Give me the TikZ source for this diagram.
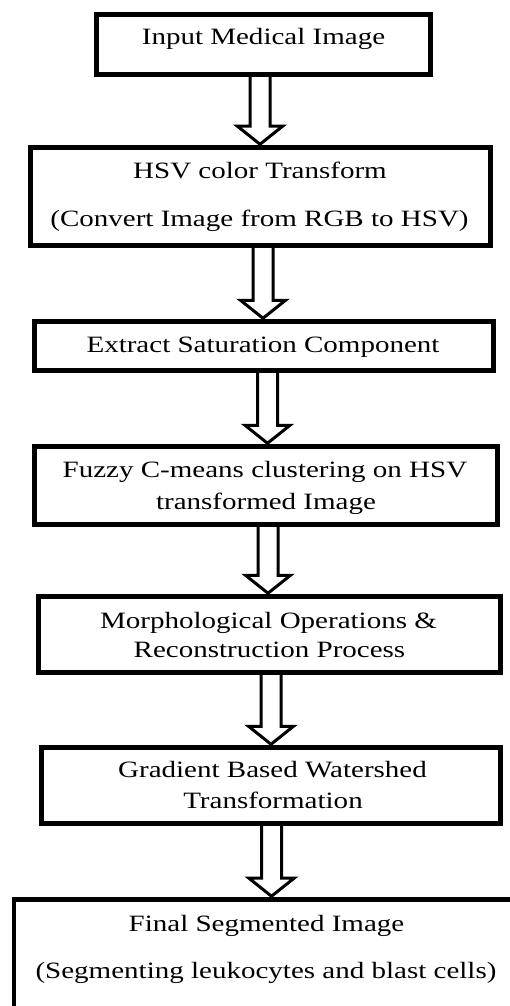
\documentclass[tikz,border=0pt]{standalone}
\usepackage{fontspec}
\setmainfont{Liberation Serif}[FakeStretch=1.24]
\usetikzlibrary{calc}
\pgfdeclarelayer{background}
\pgfsetlayers{background,main}

\tikzset{
  stage/.style={draw=black, line width=4.6pt, rectangle, inner sep=0pt, outer sep=0pt},
  caption/.style={anchor=base, inner sep=0pt, font=\fontsize{23.4}{28}\selectfont},
  hollow/.style={draw=black, fill=white, line width=3pt, line join=miter},
}

% hollow block arrow from the bottom of #1 to the top of #2, centred at x = #3 (pt)
\newcommand\blockarrow[3]{%
  \begin{pgfonlayer}{background}
  \draw[hollow] let \p1=(#1.south), \p2=(#2.north) in
    (#3pt-10pt,\y1) -- (#3pt-10pt,\y2+21pt) -- (#3pt-22.5pt,\y2+21pt) -- (#3pt,\y2+3pt)
    -- (#3pt+22.5pt,\y2+21pt) -- (#3pt+10pt,\y2+21pt) -- (#3pt+10pt,\y1);
  \end{pgfonlayer}}

\begin{document}
\begin{tikzpicture}[x=1pt,y=-1pt]
  \useasboundingbox (0,0) rectangle (510,1006);
  \clip (0,0) rectangle (510,1006);

  % process boxes
  \node[stage, minimum width=334.5pt, minimum height=60.5pt] (b1) at (263.5,44.5) {};
  \node[stage, minimum width=460.5pt, minimum height=98.5pt] (b2) at (260.5,196.5) {};
  \node[stage, minimum width=459.5pt, minimum height=49.5pt] (b3) at (264,346) {};
  \node[stage, minimum width=463.5pt, minimum height=78.5pt] (b4) at (266,485.5) {};
  \node[stage, minimum width=462.5pt, minimum height=76.5pt] (b5) at (269.5,634.5) {};
  \node[stage, minimum width=459.5pt, minimum height=76.5pt] (b6) at (271,785.5) {};
  \node[stage, minimum width=525.75pt, minimum height=140.75pt] (b7) at (277,969.6) {};

  % box texts
  \node[caption] (t1)  at (263.5,45)   {Input Medical Image};
  \node[caption] (t2a) at (260,178)    {HSV color Transform};
  \node[caption] (t2b) at (259.5,226.5) {(Convert Image from RGB to HSV)};
  \node[caption] (t3)  at (263,352.5)  {Extract Saturation Component};
  \node[caption] (t4a) at (265,477)    {Fuzzy C-means clustering on HSV};
  \node[caption] (t4b) at (266,509)    {transformed Image};
  \node[caption] (t5a) at (268.5,628)  {Morphological Operations \&};
  \node[caption] (t5b) at (269.5,657.5) {Reconstruction Process};
  \node[caption] (t6a) at (272.5,777.5) {Gradient Based Watershed};
  \node[caption] (t6b) at (273,808)    {Transformation};
  \node[caption] (t7a) at (266.5,931.5) {Final Segmented Image};
  \node[caption] (t7b) at (266,978)    {(Segmenting leukocytes and blast cells)};

  % flow arrows
  \blockarrow{b1}{b2}{260}
  \blockarrow{b2}{b3}{263}
  \blockarrow{b3}{b4}{267.5}
  \blockarrow{b4}{b5}{268}
  \blockarrow{b5}{b6}{271}
  \blockarrow{b6}{b7}{271.5}
\end{tikzpicture}
\end{document}
